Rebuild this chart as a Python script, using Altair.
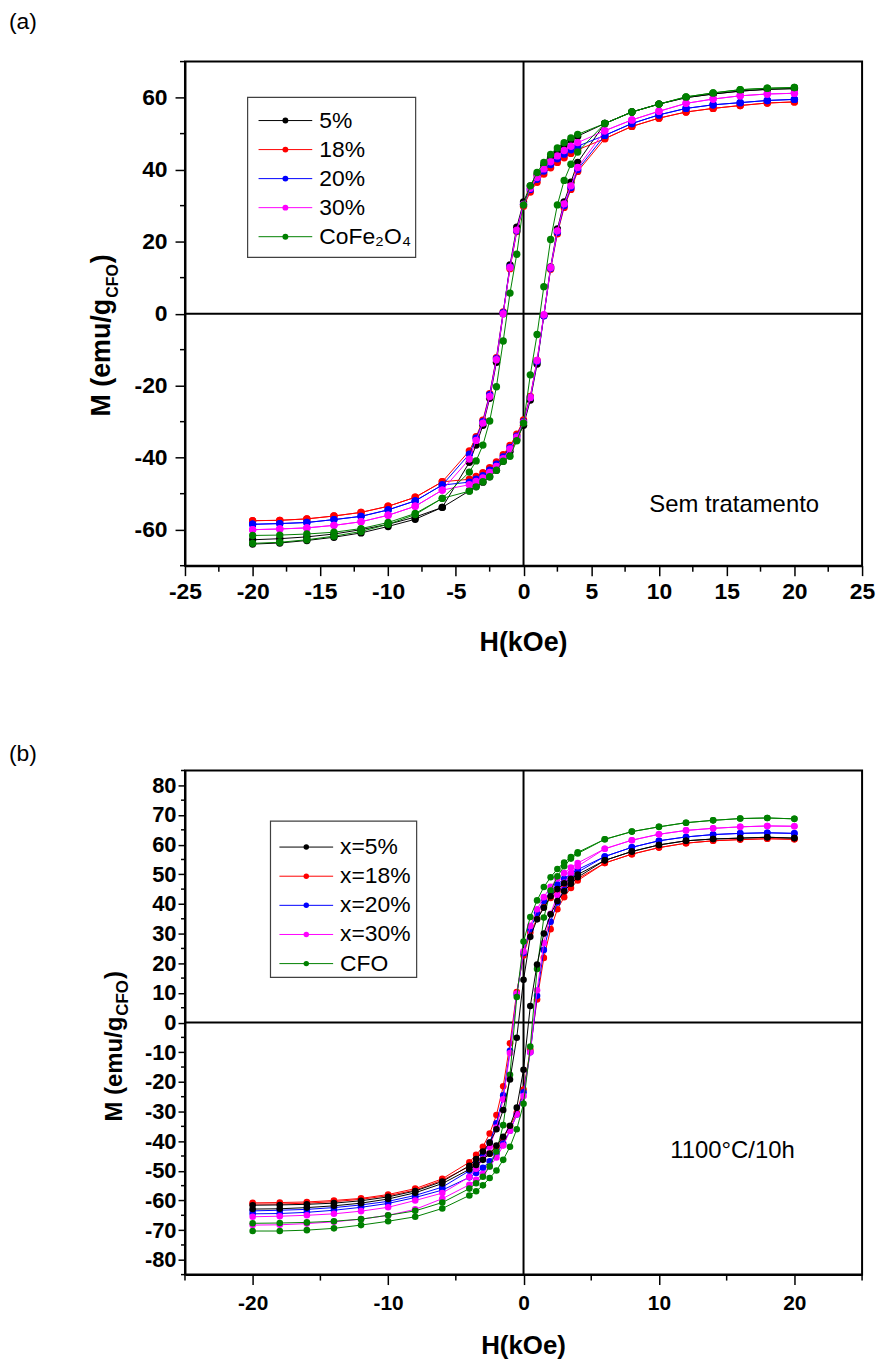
import altair as alt
import pandas as pd

# ---------------- data ----------------
H_DESC = [20, 18, 16, 14, 12, 10, 8, 6, 4, 3.5, 3, 2.5, 2, 1.5, 1, 0.5, 0,
          -0.5, -1, -1.5, -2, -2.5, -3, -3.5, -4, -6, -8, -10, -12, -14, -16, -18, -20]
H_ASC = H_DESC[::-1]

# panel (a) - Sem tratamento
A_LABELS = ["5%", "18%", "20%", "30%", "CoFe₂O₄"]
A_COLORS = ["#000000", "#ff0000", "#0000ff", "#ff00ff", "#008000"]

A5_D = [62.5, 62.3, 61.8, 61.0, 60.0, 58.2, 56.0, 52.8, 49.3, 48.2, 46.8, 45.2, 43.4, 41.2, 38.6, 35.5, 31.0,
        24.0, 13.5, 0.0, -13.5, -23.5, -31.0, -36.5, -41.3, -53.8, -56.5, -58.5, -60.0, -61.2, -62.0, -62.5, -62.8]
A5_A = [-64.0, -63.7, -63.0, -62.1, -60.9, -59.1, -57.1, -53.8, -49.2, -48.0, -46.8, -45.3, -43.5, -41.0, -38.3, -35.0, -31.0,
        -24.0, -14.0, -0.5, 13.0, 23.5, 31.0, 36.5, 42.0, 52.8, 56.0, 58.2, 60.0, 61.0, 61.8, 62.3, 62.5]
A18_D = [58.8, 58.5, 57.8, 57.0, 56.0, 54.3, 52.0, 48.6, 45.5, 44.5, 43.3, 42.0, 40.5, 38.8, 36.5, 33.8, 29.8,
         22.8, 12.5, 0.5, -12.2, -22.2, -29.6, -34.2, -38.1, -46.7, -51.0, -53.5, -55.2, -56.2, -57.0, -57.4, -57.5]
A18_A = [-57.5, -57.4, -57.0, -56.2, -55.2, -53.5, -51.0, -46.7, -46.0, -45.2, -44.2, -42.8, -41.2, -39.2, -36.6, -33.5, -29.5,
         -23.0, -13.0, -0.5, 12.3, 22.2, 29.5, 34.5, 39.5, 48.6, 52.0, 54.3, 56.0, 57.0, 57.8, 58.5, 58.8]
A20_D = [59.5, 59.2, 58.6, 58.0, 57.0, 55.2, 52.8, 49.5, 46.5, 45.5, 44.3, 43.0, 41.4, 39.6, 37.3, 34.5, 30.3,
         23.0, 13.0, 0.3, -12.5, -22.5, -30.0, -34.6, -39.0, -47.6, -52.0, -54.5, -56.3, -57.2, -58.0, -58.3, -58.5]
A20_A = [-58.5, -58.3, -58.0, -57.2, -56.3, -54.5, -52.0, -47.6, -46.8, -46.0, -45.0, -43.5, -41.8, -39.8, -37.2, -34.0, -30.0,
         -23.3, -13.3, -0.6, 12.6, 22.6, 30.0, 35.0, 40.0, 49.5, 52.8, 55.2, 57.0, 58.0, 58.6, 59.2, 59.5]
A30_D = [61.2, 61.0, 60.5, 59.6, 58.4, 56.2, 53.8, 50.8, 47.5, 46.5, 45.3, 43.8, 42.2, 40.2, 37.8, 34.8, 30.3,
         23.2, 12.8, 0.0, -12.8, -23.0, -30.4, -35.2, -40.4, -49.0, -53.5, -56.0, -57.8, -58.8, -59.5, -59.8, -60.0]
A30_A = [-60.0, -59.8, -59.5, -58.8, -57.8, -56.0, -53.5, -49.0, -47.5, -46.6, -45.6, -44.1, -42.4, -40.3, -37.6, -34.3, -30.2,
         -23.3, -13.0, -0.3, 12.8, 23.0, 30.5, 35.5, 40.6, 50.8, 53.8, 56.2, 58.4, 59.6, 60.5, 61.0, 61.2]
ACFO_D = [62.8, 62.6, 62.2, 61.3, 60.2, 58.2, 56.0, 52.8, 49.8, 48.8, 47.5, 46.0, 44.2, 42.0, 39.2, 35.5, 30.2,
          16.5, 5.7, -7.6, -20.3, -29.8, -36.5, -40.9, -44.0, -51.3, -55.5, -58.0, -59.7, -60.7, -61.2, -61.5, -61.6]
ACFO_A = [-63.8, -63.5, -62.8, -61.8, -60.5, -58.5, -55.8, -51.3, -49.3, -48.1, -46.7, -45.3, -43.5, -41.0, -39.6, -35.3, -30.4,
          -17.0, -5.8, 7.5, 20.6, 30.2, 37.0, 41.5, 44.9, 52.8, 56.0, 58.2, 60.2, 61.3, 62.2, 62.6, 62.8]

# panel (b) - 1100°C/10h
B_LABELS = ["x=5%", "x=18%", "x=20%", "x=30%", "CFO"]
B_COLORS = ["#000000", "#ff0000", "#0000ff", "#ff00ff", "#008000"]

B5_D = [62.2, 62.5, 62.2, 61.9, 61.3, 59.9, 57.7, 54.7, 49.9, 48.5, 47.0, 45.0, 42.6, 38.7, 34.8, 28.9, 14.4,
        -5.1, -19.2, -29.5, -36.0, -40.5, -43.5, -46.0, -48.3, -53.6, -56.8, -58.8, -60.1, -60.9, -61.3, -61.5, -61.6]
B5_A = [-62.9, -62.8, -62.4, -61.8, -60.9, -59.5, -57.4, -54.3, -49.5, -48.0, -46.3, -44.2, -41.5, -38.5, -34.8, -28.7, -15.9,
        5.6, 19.6, 30.0, 36.5, 41.0, 44.3, 46.8, 49.0, 54.7, 57.7, 59.9, 61.3, 61.9, 62.2, 62.5, 62.2]
B18_D = [61.8, 62.0, 61.7, 61.3, 60.5, 59.0, 56.8, 53.8, 48.5, 47.3, 46.0, 44.2, 42.0, 39.0, 35.0, 30.4, 22.6,
         10.3, -7.0, -21.5, -31.2, -37.4, -41.9, -44.6, -47.1, -52.7, -56.0, -58.0, -59.3, -60.0, -60.5, -60.7, -60.8]
B18_A = [-61.2, -61.2, -60.9, -60.4, -59.6, -58.4, -56.5, -53.2, -48.5, -47.3, -46.0, -44.2, -42.0, -39.0, -35.0, -30.4, -22.6,
         -9.2, 7.8, 21.8, 31.5, 38.2, 42.3, 45.4, 47.9, 53.8, 56.8, 59.0, 60.5, 61.3, 61.7, 62.0, 61.8]
B20_D = [63.8, 64.0, 63.8, 63.4, 62.6, 61.3, 59.1, 56.0, 51.6, 50.2, 48.5, 46.6, 44.2, 41.0, 37.0, 31.5, 23.5,
         9.5, -9.5, -24.5, -34.0, -40.5, -44.5, -47.5, -50.0, -55.5, -58.3, -60.3, -61.5, -62.4, -63.0, -63.3, -63.5]
B20_A = [-64.5, -64.4, -64.0, -63.3, -62.3, -61.0, -59.0, -56.5, -52.2, -50.7, -49.0, -46.8, -44.2, -40.8, -36.5, -31.0, -23.5,
         -10.0, 9.0, 24.5, 34.0, 40.5, 44.7, 48.0, 50.7, 56.0, 59.1, 61.3, 62.6, 63.4, 63.8, 64.0, 63.8]
B30_D = [66.2, 66.3, 66.0, 65.5, 64.8, 63.5, 61.5, 58.6, 53.8, 52.3, 50.4, 48.6, 45.8, 42.3, 38.2, 32.6, 24.0,
         9.8, -10.3, -25.9, -35.4, -41.9, -46.0, -49.3, -52.1, -57.5, -60.0, -62.3, -63.6, -64.5, -65.0, -65.3, -65.5]
B30_A = [-68.3, -68.2, -67.8, -67.2, -66.3, -65.0, -63.0, -59.4, -54.7, -53.0, -51.0, -48.5, -45.5, -41.5, -36.5, -31.0, -24.8,
         -10.0, 10.9, 26.8, 36.7, 42.9, 47.1, 50.4, 52.7, 58.6, 61.5, 63.5, 64.8, 65.5, 66.0, 66.3, 66.2]
BCFO_D = [68.7, 69.0, 68.8, 68.2, 67.4, 66.0, 64.4, 61.8, 57.4, 55.8, 54.0, 51.8, 49.0, 45.7, 41.2, 35.6, 27.3,
          8.6, -17.6, -34.6, -43.5, -48.5, -52.0, -54.2, -56.0, -60.7, -63.5, -65.0, -66.3, -67.0, -67.4, -67.6, -67.7]
BCFO_A = [-70.3, -70.3, -70.0, -69.4, -68.3, -67.0, -65.5, -62.7, -58.3, -56.9, -54.9, -52.4, -49.9, -46.3, -41.9, -36.0, -27.4,
          -8.1, 18.1, 35.4, 44.5, 49.3, 52.7, 55.3, 57.0, 61.8, 64.4, 66.0, 67.4, 68.2, 68.8, 69.0, 68.7]

# axis ticks
A_X_MAJOR = [-25, -20, -15, -10, -5, 0, 5, 10, 15, 20, 25]
A_X_MINOR = [-22.5, -17.5, -12.5, -7.5, -2.5, 2.5, 7.5, 12.5, 17.5, 22.5]
A_Y_MAJOR = [-60, -40, -20, 0, 20, 40, 60]
A_Y_MINOR = [-70, -50, -30, -10, 10, 30, 50, 70]
B_X_MAJOR = [-20, -10, 0, 10, 20]
B_X_MINOR = [-25, -15, -5, 5, 15, 25]
B_Y_MAJOR = [-80, -70, -60, -50, -40, -30, -20, -10, 0, 10, 20, 30, 40, 50, 60, 70, 80]
B_Y_MINOR = [-85, -75, -65, -55, -45, -35, -25, -15, -5, 5, 15, 25, 35, 45, 55, 65, 75, 85]

FONT = "Liberation Sans"
W, H = 681, 507
LABEL_EXPR = "datum.value < 0 ? '-' + abs(datum.value) : '' + datum.value"


def build_df(labels, desc_list, asc_list):
    rows = []
    for lab, d, a in zip(labels, desc_list, asc_list):
        for i, (h, m) in enumerate(zip(H_DESC, d)):
            rows.append({"series": lab, "branch": "desc", "idx": i, "H": h, "M": m})
        for i, (h, m) in enumerate(zip(H_ASC, a)):
            rows.append({"series": lab, "branch": "asc", "idx": i, "H": h, "M": m})
    return pd.DataFrame(rows)


def one():
    return pd.DataFrame({"a": [0]})


def txt(s, x, y, size, weight="normal", align="left", baseline="alphabetic", angle=None):
    kw = dict(font=FONT, fontSize=size, fontWeight=weight, align=align,
              baseline=baseline, color="black")
    if angle is not None:
        kw["angle"] = angle
    return alt.Chart(pd.DataFrame({"t": [s]})).mark_text(**kw).encode(
        text="t:N", x=alt.value(x), y=alt.value(y))


def panel(df, labels, colors, order, ydom, ymaj, ymin_, xmaj, xmin_, c):
    xs = alt.Scale(domain=[-25, 25], nice=False, zero=False)
    ys = alt.Scale(domain=ydom, nice=False, zero=False)
    xaxis = alt.Axis(values=xmaj, title=None, grid=False, tickSize=c["xtick"], tickWidth=1.5,
                     tickColor="black", domainColor="black", domainWidth=2,
                     labelFont=FONT, labelFontSize=c["xlab"], labelFontWeight="bold",
                     labelColor="black", labelPadding=c["xpad"], labelFlush=False,
                     labelOverlap=False, labelExpr=LABEL_EXPR)
    yaxis = alt.Axis(values=ymaj, title=None, grid=False, tickSize=c["ytick"], tickWidth=1.5,
                     tickColor="black", domainColor="black", domainWidth=2,
                     labelFont=FONT, labelFontSize=c["ylab"], labelFontWeight="bold",
                     labelColor="black", labelPadding=c["ypad"], labelFlush=False,
                     labelOverlap=False, labelExpr=LABEL_EXPR)

    def X(field):
        return alt.X(field, scale=xs, axis=xaxis)

    def Y(field):
        return alt.Y(field, scale=ys, axis=yaxis)

    layers = []
    # zero lines
    layers.append(alt.Chart(pd.DataFrame({"v": [0]})).mark_rule(color="black", strokeWidth=2)
                  .encode(x=X("v:Q")))
    layers.append(alt.Chart(pd.DataFrame({"v": [0]})).mark_rule(color="black", strokeWidth=2)
                  .encode(y=Y("v:Q")))
    # minor ticks
    layers.append(alt.Chart(pd.DataFrame({"v": ymin_})).mark_rule(color="black", strokeWidth=1.5)
                  .encode(y=Y("v:Q"), x=alt.value(-c["yminlen"]), x2=alt.value(0)))
    layers.append(alt.Chart(pd.DataFrame({"v": xmin_})).mark_rule(color="black", strokeWidth=1.5)
                  .encode(x=X("v:Q"), y=alt.value(H), y2=alt.value(H + c["xminlen"])))
    # series
    for lab in order:
        col = colors[labels.index(lab)]
        sub = df[df.series == lab]
        layers.append(alt.Chart(sub).mark_line(color=col, strokeWidth=1).encode(
            x=X("H:Q"), y=Y("M:Q"), detail="branch:N", order="idx:Q"))
        layers.append(alt.Chart(sub).mark_circle(color=col, size=c["msize"], opacity=1).encode(
            x=X("H:Q"), y=Y("M:Q")))
    # legend
    bx0, bx1, by0, by1 = c["box"]
    layers.append(alt.Chart(one()).mark_rect(fill="white", stroke="#404040", strokeWidth=1.2)
                  .encode(x=alt.value(bx0), x2=alt.value(bx1), y=alt.value(by0), y2=alt.value(by1)))
    lx0, lx1, ldot, ltx = c["lx"]
    for i, (lab, col) in enumerate(zip(labels, colors)):
        yy = c["ey0"] + i * c["edy"]
        layers.append(alt.Chart(one()).mark_rule(color=col, strokeWidth=1)
                      .encode(x=alt.value(lx0), x2=alt.value(lx1), y=alt.value(yy)))
        layers.append(alt.Chart(one()).mark_circle(color=col, size=c["lsize"], opacity=1)
                      .encode(x=alt.value(ldot), y=alt.value(yy)))
        layers.append(txt(lab, ltx, yy, 23, baseline="middle"))
    # texts
    layers.append(txt(c["tag"], -177, c["tag_y"], 23, baseline=c["tag_base"]))
    layers.append(txt(c["note"], c["note_x"], c["note_y"], 24, baseline="middle"))
    layers.append(txt("H(kOe)", W / 2, H + c["xt_dy"], c["xt_fs"], weight="bold",
                      align="center", baseline="middle"))
    # y title with subscript
    fs, sfs = c["yt_fs"], c["yt_sfs"]
    x0, y0 = c["yt_x"], c["yt_y"]
    w1 = 4.389 * fs
    w2 = 2.111 * sfs
    layers.append(txt("M (emu/g", x0, y0, fs, weight="bold", angle=270))
    layers.append(txt("CFO", x0 + c["yt_sub"], y0 - w1 - 1, sfs, weight="bold", angle=270))
    layers.append(txt(")", x0, y0 - w1 - w2 - 2, fs, weight="bold", angle=270))
    return alt.layer(*layers).properties(width=W, height=H)


df_a = build_df(A_LABELS, [A5_D, A18_D, A20_D, A30_D, ACFO_D], [A5_A, A18_A, A20_A, A30_A, ACFO_A])
df_b = build_df(B_LABELS, [B5_D, B18_D, B20_D, B30_D, BCFO_D], [B5_A, B18_A, B20_A, B30_A, BCFO_A])

cfg_a = dict(xtick=10, ytick=10, xlab=23, ylab=23, xpad=5, ypad=8, yminlen=5, xminlen=6,
             msize=55, lsize=35, box=(63, 232, 36, 197), lx=(74, 128, 101, 135),
             ey0=59.3, edy=29.2, tag="(a)", tag_y=-51, tag_base="top",
             note="Sem tratamento", note_x=467, note_y=446,
             xt_dy=78, xt_fs=27, yt_fs=27, yt_sfs=16, yt_x=-75, yt_y=357, yt_sub=8)
cfg_b = dict(xtick=10, ytick=7, xlab=21, ylab=22, xpad=8, ypad=2, yminlen=4, xminlen=6,
             msize=44, lsize=30, box=(86, 233, 51, 208), lx=(95, 149, 122, 156),
             ey0=77, edy=29.3, tag="(b)", tag_y=-17, tag_base="middle",
             note="1100°C/10h", note_x=488, note_y=383,
             xt_dy=72, xt_fs=26, yt_fs=24, yt_sfs=17, yt_x=-63.5, yt_y=353, yt_sub=6)

pa = panel(df_a, A_LABELS, A_COLORS, ["5%", "18%", "20%", "30%", "CoFe₂O₄"],
           [-70, 70], A_Y_MAJOR, A_Y_MINOR, A_X_MAJOR, A_X_MINOR, cfg_a)
pb = panel(df_b, B_LABELS, B_COLORS, ["x=18%", "x=20%", "x=30%", "CFO", "x=5%"],
           [-85, 85], B_Y_MAJOR, B_Y_MINOR, B_X_MAJOR, B_X_MINOR, cfg_b)

chart = alt.vconcat(pa, pb, spacing=206, bounds="flush").properties(
    padding={"left": 0, "top": -2, "right": 0, "bottom": 0}
).configure_view(stroke="black", strokeWidth=2)

chart.save("out.html", embed_options={"renderer": "svg", "actions": False})
